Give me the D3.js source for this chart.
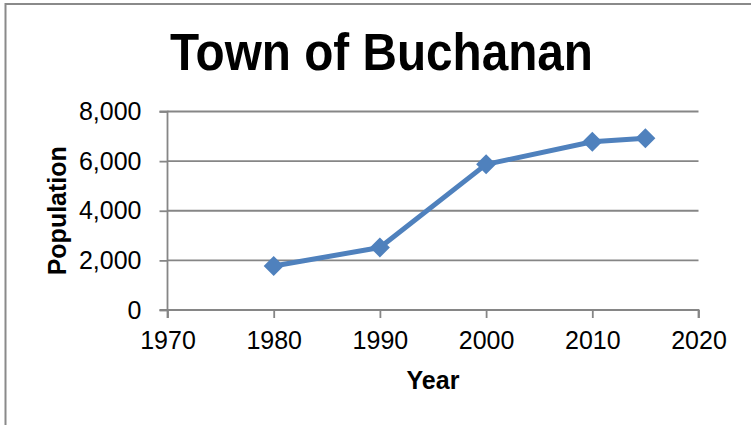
<!DOCTYPE html>
<html><head><meta charset="utf-8">
<script src="https://cdn.jsdelivr.net/npm/d3@7"></script>
<style>html,body{margin:0;padding:0;background:#fff;}svg{display:block;}</style>
</head><body>
<script>
const title = "Town of Buchanan";
const xLabel = "Year";
const yLabel = "Population";
const years = [1980, 1990, 2000, 2010, 2015];
const population = [1770, 2520, 5870, 6780, 6920];
const xTicks = [1970, 1980, 1990, 2000, 2010, 2020];
const yTicks = [0, 2000, 4000, 6000, 8000];

const W = 751, H = 425;
const svg = d3.select("body").append("svg").attr("width", W).attr("height", H);
const font = "'Liberation Sans', Arial, sans-serif";

// outer chart border (extends past the window on right/bottom)
svg.append("rect").attr("x", 5.5).attr("y", 4).attr("width", 760).attr("height", 440)
  .attr("fill", "none").attr("stroke", "#8a8a8a").attr("stroke-width", 2);

const x = d3.scaleLinear().domain([1970, 2020]).range([167.5, 698.5]);
const y = d3.scaleLinear().domain([0, 8000]).range([310, 111.5]);

// gridlines
svg.append("g").selectAll("line").data(yTicks.filter(d => d > 0)).join("line")
  .attr("x1", x(1970)).attr("x2", x(2020)).attr("y1", d => y(d)).attr("y2", d => y(d))
  .attr("stroke", "#868686").attr("stroke-width", 1.8);

const fmt = d3.format(",");
const yAxis = svg.append("g").attr("transform", `translate(${x(1970)},0)`)
  .call(d3.axisLeft(y).tickValues(yTicks).tickFormat(fmt).tickSize(8).tickPadding(18));
const xAxis = svg.append("g").attr("transform", `translate(0,${y(0)})`)
  .call(d3.axisBottom(x).tickValues(xTicks).tickFormat(d3.format("d")).tickSize(8).tickPadding(13.5));
[yAxis, xAxis].forEach(g => {
  g.selectAll("path.domain").attr("stroke", "#868686").attr("stroke-width", 1.8);
  g.selectAll(".tick line").attr("stroke", "#868686").attr("stroke-width", 1.8);
  g.selectAll("text").attr("font-family", font).attr("font-size", 25).attr("fill", "#000");
});
xAxis.select("path.domain").attr("d", `M${x(1970)},8V0H${x(2020)}V8`);
yAxis.select("path.domain").attr("d", `M-8,${y(8000)}H0V${y(0)}H-8`);

// line
const pts = years.map((d, i) => [d, population[i]]);
svg.append("path").datum(pts)
  .attr("d", d3.line().x(d => x(d[0])).y(d => y(d[1])))
  .attr("fill", "none").attr("stroke", "#4F81BD").attr("stroke-width", 5)
  .attr("stroke-linejoin", "round");
svg.append("g").selectAll("path").data(pts).join("path")
  .attr("transform", d => `translate(${x(d[0])},${y(d[1])})`)
  .attr("d", "M0,-10L10,0L0,10L-10,0Z")
  .attr("fill", "#4F81BD");

// title & axis labels
svg.append("text").attr("x", 170).attr("y", 70)
  .attr("textLength", 423).attr("lengthAdjust", "spacingAndGlyphs")
  .attr("font-family", font).attr("font-weight", "bold").attr("font-size", 51).text(title);
svg.append("text").attr("x", (x(1970) + x(2020)) / 2).attr("y", 389).attr("text-anchor", "middle")
  .attr("font-family", font).attr("font-weight", "bold").attr("font-size", 25).text(xLabel);
svg.append("text").attr("transform", `translate(66,${(y(0) + y(8000)) / 2}) rotate(-90)`)
  .attr("text-anchor", "middle")
  .attr("font-family", font).attr("font-weight", "bold").attr("font-size", 25).text(yLabel);
</script>
</body></html>
